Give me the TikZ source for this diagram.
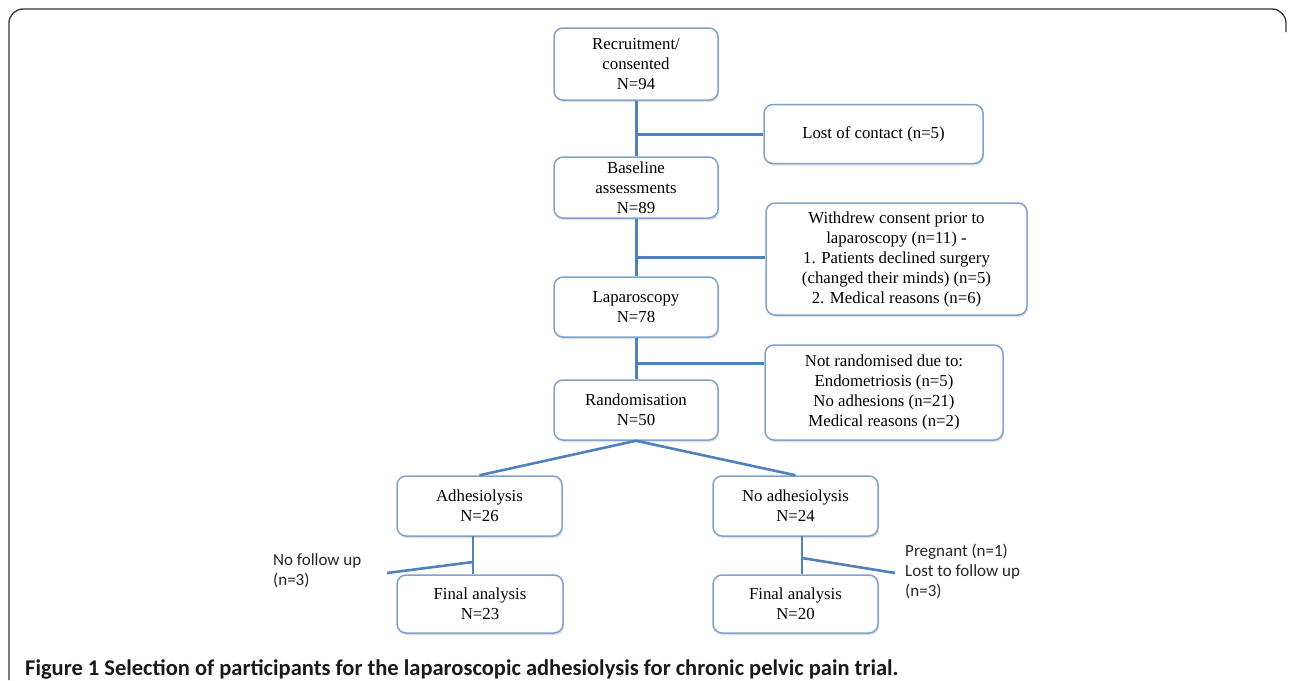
\documentclass[tikz,border=0pt]{standalone}
\usepackage{fontspec}
\setmainfont{Liberation Serif}
\newfontfamily\carl{Carlito}
\usetikzlibrary{shadows,calc}
\definecolor{conn}{RGB}{79,129,189}
\definecolor{boxline}{RGB}{125,163,206}
\tikzset{
  fbox/.style={draw=boxline, line width=1.5pt, rounded corners=9pt, fill=white,
    align=center, inner sep=2pt, font=\fontsize{16.8}{20}\selectfont,
    drop shadow={opacity=0.25, shadow xshift=1.2pt, shadow yshift=-2pt}},
  link/.style={draw=conn, line width=3pt},
  note/.style={font=\carl\fontsize{17}{20}\selectfont, align=left, inner sep=0pt, text=black!85},
}
\begin{document}
\begin{tikzpicture}[x=1pt,y=-1pt]
\useasboundingbox (0,0) rectangle (1290,680);
% frame
\draw[line width=1.3pt, black!80, rounded corners=14pt] (9,680) -- (9,9) -- (1286,9) -- (1286,32);
% boxes
\node[fbox, minimum width=164pt, minimum height=72pt] (rec) at (636,64) {Recruitment/\\consented\\N=94};
\node[fbox, minimum width=219pt, minimum height=59pt] (lost) at (873.5,134) {Lost of contact (n=5)};
\node[fbox, minimum width=164pt, minimum height=61pt] (base) at (636,187.5) {Baseline\\assessments\\N=89};
\node[fbox, minimum width=261pt, minimum height=112pt] (wd) at (896.5,259) {Withdrew consent prior to\\laparoscopy (n=11) -\\1. Patients declined surgery\\(changed their minds) (n=5)\\2. Medical reasons (n=6)};
\node[fbox, minimum width=164pt, minimum height=60pt] (lap) at (636,307) {Laparoscopy\\N=78};
\node[fbox, minimum width=238pt, minimum height=95pt] (nr) at (884,392.5) {Not randomised due to:\\Endometriosis (n=5)\\No adhesions (n=21)\\Medical reasons (n=2)};
\node[fbox, minimum width=164pt, minimum height=60pt] (rand) at (636,410) {Randomisation\\N=50};
\node[fbox, minimum width=165pt, minimum height=60pt] (adh) at (479.5,506) {Adhesiolysis\\N=26};
\node[fbox, minimum width=165pt, minimum height=60pt] (noadh) at (795.5,506) {No adhesiolysis\\N=24};
\node[fbox, minimum width=166pt, minimum height=58pt] (finl) at (480,604) {Final analysis\\N=23};
\node[fbox, minimum width=165pt, minimum height=58pt] (finr) at (795.5,604) {Final analysis\\N=20};
% connectors
\draw[link] (rec.south) -- (base.north);
\draw[link] (rec.south |- lost.west) -- (lost.west);
\coordinate (j2) at (636,257);
\draw[link] (base.south) -- (lap.north);
\draw[link] (j2) -- (j2 -| wd.west);
\coordinate (j3) at (636,363);
\draw[link] (lap.south) -- (rand.north);
\draw[link] (j3) -- (j3 -| nr.west);
\draw[link, line width=2.6pt] (rand.south) -- (adh.north);
\draw[link, line width=2.6pt] (rand.south) -- (noadh.north);
\coordinate (la) at (473,536);
\coordinate (lj) at (473,562);
\coordinate (lend) at (387,573);
\draw[link, line width=2.6pt] (la) -- (la |- finl.north);
\draw[link, line width=2.6pt] (lj) -- (lend);
\coordinate (ra) at (802,536);
\coordinate (rj) at (802,558);
\coordinate (rend) at (895,573);
\draw[link, line width=2.6pt] (ra) -- (ra |- finr.north);
\draw[link, line width=2.6pt] (rj) -- (rend);
% side notes
\node[note, anchor=north west] (nfu) at (273,553) {No follow up\\(n=3)};
\node[note, anchor=north west] (preg) at (905,544) {Pregnant (n=1)\\Lost to follow up\\(n=3)};
% caption
\node[anchor=base west, inner sep=0pt, font=\carl\fontsize{22.5}{26}\selectfont, text=black!90] (cap) at (25,675)
  {\textbf{Figure 1} \textbf{Selection of participants for the laparoscopic adhesiolysis for chronic pelvic pain trial.}};
\end{tikzpicture}
\end{document}
